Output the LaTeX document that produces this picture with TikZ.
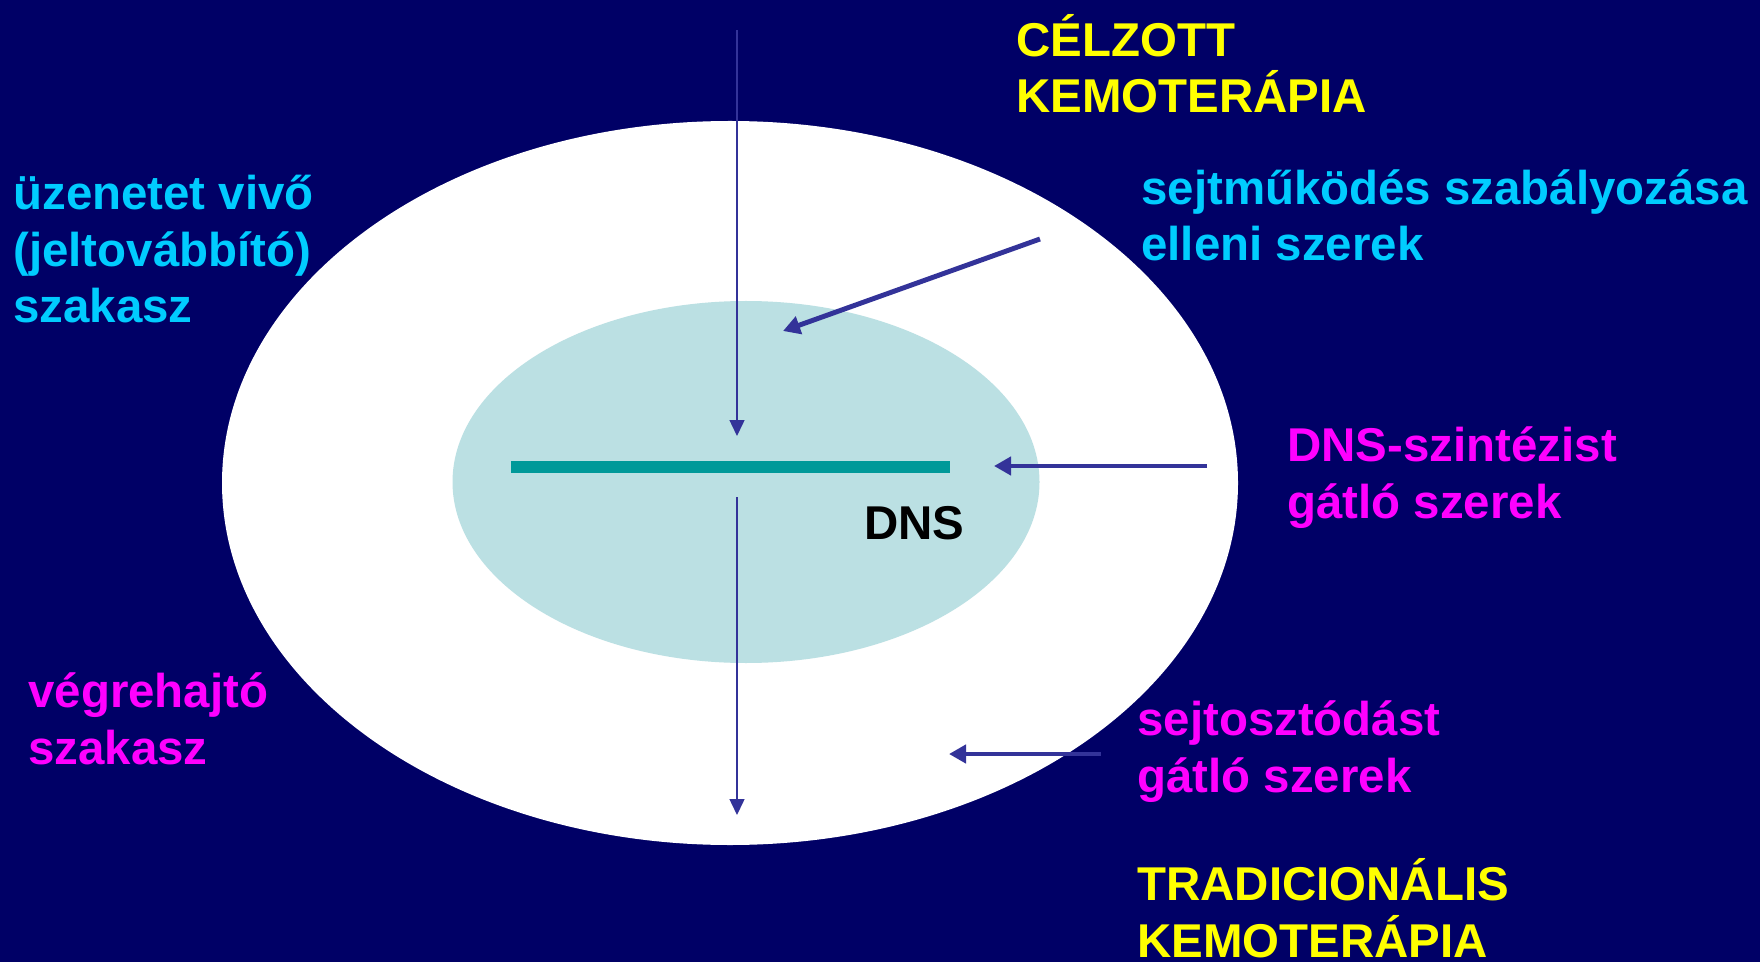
\documentclass[tikz,border=0pt]{standalone}
\usepackage{fontspec}
\setmainfont{Liberation Sans}
\usetikzlibrary{arrows.meta}

\definecolor{navy}{RGB}{0,0,102}
\definecolor{cellblue}{RGB}{187,224,227}
\definecolor{dnateal}{RGB}{0,153,153}
\definecolor{arrowblue}{RGB}{51,51,153}
\definecolor{signalcyan}{RGB}{0,204,255}
\definecolor{drugmagenta}{RGB}{255,0,255}
\definecolor{titleyellow}{RGB}{255,255,0}

\tikzset{
  txt/.style={anchor=base west, inner sep=0pt, align=left,
    font=\fontsize{27}{32.4}\selectfont\bfseries},
  thin arrow/.style={draw=arrowblue, line width=0.85pt,
    -{Triangle[length=0.32cm,width=0.3cm]}, arrowblue},
  thick arrow/.style={draw=arrowblue, line width=2.8pt,
    -{Triangle[length=0.34cm,width=0.36cm]}, arrowblue},
}

\begin{document}
\begin{tikzpicture}[x=0.02cm, y=-0.02cm]
  % background
  \fill[navy] (0,0) rectangle (1760,962);
  \useasboundingbox (0,0) rectangle (1760,962);

  % cell and nucleus
  \fill[white] (730,483) ellipse [x radius=508, y radius=362];
  \fill[cellblue] (746,482) ellipse [x radius=293.5, y radius=181];
  \draw[dnateal, line width=6.3pt] (511,467) -- (950,467);

  % texts (placed at the baseline of their last line)
  \node[txt, titleyellow] (celzott) at (1016,113) {CÉLZOTT\\KEMOTERÁPIA};
  \node[txt, signalcyan] (jelto) at (13,323) {üzenetet vivő\\(jeltovábbító)\\szakasz};
  \node[txt, signalcyan] (szabaly) at (1141,261) {sejtműködés szabályozása\\elleni szerek};
  \node[txt, drugmagenta] (szintezis) at (1287,518) {DNS-szintézist\\gátló szerek};
  \node[txt, black] (dns) at (864,539) {DNS};
  \node[txt, drugmagenta] (vegre) at (28,764) {végrehajtó\\szakasz};
  \node[txt, drugmagenta] (osztodas) at (1137,792) {sejtosztódást\\gátló szerek};
  \node[txt, titleyellow] (trad) at (1137,957) {TRADICIONÁLIS\\KEMOTERÁPIA};

  % arrow ends
  \coordinate (top) at (737,30);
  \coordinate (top tip) at (737,436);
  \coordinate (low) at (737,497);
  \coordinate (low tip) at (737,815);
  \coordinate (reg) at (1040,239);
  \coordinate (reg tip) at (783,331);
  \coordinate (syn) at (1207,466);
  \coordinate (syn tip) at (994,466);
  \coordinate (div) at (1101,754);
  \coordinate (div tip) at (949,754);

  \draw[thin arrow] (top) -- (top tip);
  \draw[thin arrow] (low) -- (low tip);
  \draw[thick arrow] (reg) -- (reg tip);
  \draw[thick arrow] (syn) -- (syn tip);
  \draw[thick arrow] (div) -- (div tip);
\end{tikzpicture}
\end{document}
